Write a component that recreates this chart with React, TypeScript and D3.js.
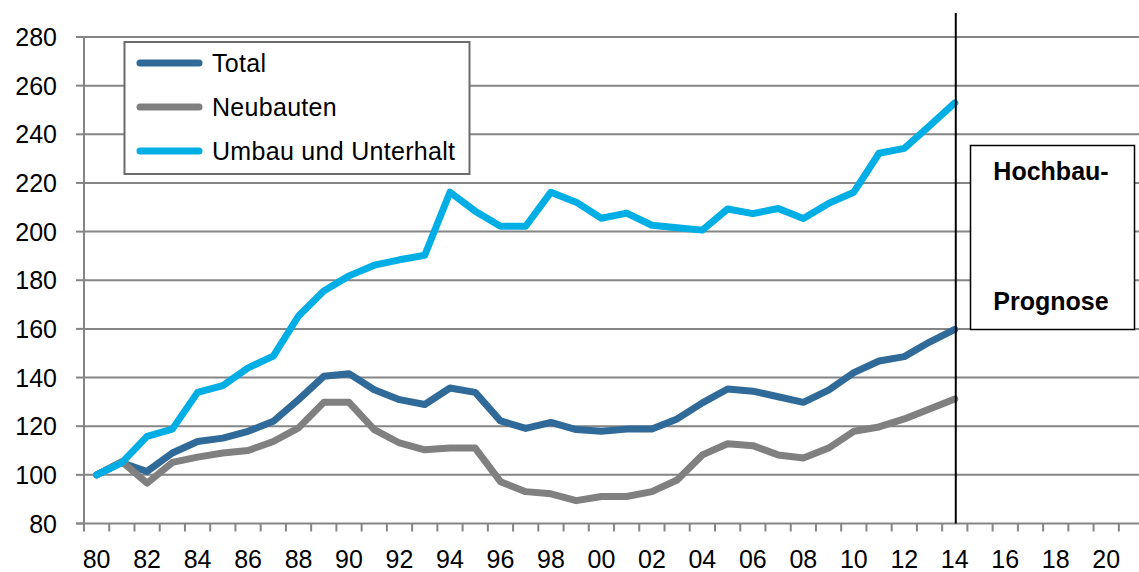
import * as d3 from 'd3';

const WIDTH = 1139;
const HEIGHT = 572;

// categories run one past the last label, like the Excel source
const years = d3.range(1980, 2022);
const yTicks = [80, 100, 120, 140, 160, 180, 200, 220, 240, 260, 280];
const xLabelYears = d3.range(1980, 2021, 2);

const totalValues = [
  100, 105, 101.4, 109, 113.7, 115.1, 117.9, 122, 130.9, 140.5, 141.6, 135,
  130.9, 128.9, 135.7, 133.9, 122.2, 119.1, 121.6, 118.6, 117.9, 118.8, 118.8,
  123, 129.6, 135.3, 134.4, 132.1, 129.8, 134.8, 142, 146.8, 148.6, 154.6, 159.8,
];
const neubautenValues = [
  100, 105.5, 96.6, 105.1, 107.3, 109, 110, 113.7, 119.3, 129.8, 129.8, 118.6,
  113.1, 110.3, 111, 111, 97.2, 93.1, 92.2, 89.4, 91.1, 91.1, 93.1, 97.9, 108.2,
  112.8, 112, 108.2, 106.9, 111, 117.9, 119.7, 123, 127.1, 131.2,
];
const umbauValues = [
  100, 105, 115.8, 118.8, 133.9, 136.7, 144, 148.8, 165.3, 175.6, 181.8, 186.2,
  188.4, 190.3, 216.2, 208.4, 202.2, 202.2, 216.2, 212.1, 205.5, 207.6, 202.6,
  201.6, 200.6, 209.3, 207.4, 209.5, 205.4, 211.6, 216.2, 232.2, 234.2, 243.5,
  252.9,
];

const series = [
  { name: 'Total', color: '#306A98', values: totalValues },
  { name: 'Neubauten', color: '#808080', values: neubautenValues },
  { name: 'Umbau und Unterhalt', color: '#00AEE6', values: umbauValues },
];

const FORECAST_YEAR = 2014;
const FONT = '"Liberation Sans", Arial, sans-serif';

export default function App() {
  const x = d3
    .scaleBand<number>()
    .domain(years)
    .range([84, 84 + years.length * 25.24]);
  const y = d3.scaleLinear().domain([80, 280]).range([523.5, 37]);
  const cx = (yr: number) => (x(yr) ?? 0) + x.bandwidth() / 2;

  const line = d3
    .line<number>()
    .x((_, i) => cx(years[i]))
    .y((v) => y(v));

  const plotRight = WIDTH;

  return (
    <svg
      width={WIDTH}
      height={HEIGHT}
      style={{ position: 'absolute', left: 0, top: 0, background: '#fff' }}
      fontFamily={FONT}
    >
      {/* grid */}
      {yTicks.map((t) => (
        <g key={t}>
          {t > 80 && (
            <line x1={84} x2={plotRight} y1={y(t)} y2={y(t)} stroke="#858585" strokeWidth={2} />
          )}
          <line x1={76} x2={84} y1={y(t)} y2={y(t)} stroke="#858585" strokeWidth={2} />
          <text x={57} y={y(t)} textAnchor="end" dominantBaseline="central" fontSize={25} fill="#000">
            {t}
          </text>
        </g>
      ))}

      {/* axes */}
      <line x1={84} x2={84} y1={y(280)} y2={y(80) + 1} stroke="#858585" strokeWidth={2} />
      <line x1={76} x2={plotRight} y1={y(80)} y2={y(80)} stroke="#858585" strokeWidth={2} />
      {years.map((yr) => (
        <line
          key={yr}
          x1={x(yr)}
          x2={x(yr)}
          y1={y(80)}
          y2={y(80) + 8}
          stroke="#858585"
          strokeWidth={2}
        />
      ))}
      {xLabelYears.map((yr) => (
        <text key={yr} x={cx(yr)} y={568} textAnchor="middle" fontSize={25} fill="#000">
          {String(yr % 100).padStart(2, '0')}
        </text>
      ))}

      {/* series */}
      {series.map((s) => (
        <path
          key={s.name}
          d={line(s.values) ?? ''}
          fill="none"
          stroke={s.color}
          strokeWidth={7}
          strokeLinejoin="round"
          strokeLinecap="round"
        />
      ))}

      {/* forecast marker */}
      <line
        x1={cx(FORECAST_YEAR) + 1}
        x2={cx(FORECAST_YEAR) + 1}
        y1={13}
        y2={y(80)}
        stroke="#000"
        strokeWidth={2}
      />
      <rect x={970.5} y={145.5} width={164} height={184} fill="#fff" stroke="#000" strokeWidth={1.5} />
      <text x={1051} y={180} textAnchor="middle" fontSize={25} fontWeight="bold" fill="#000">
        Hochbau-
      </text>
      <text x={1051} y={310} textAnchor="middle" fontSize={25} fontWeight="bold" fill="#000">
        Prognose
      </text>

      {/* legend */}
      <rect x={124.5} y={42} width={345} height={132} fill="#fff" stroke="#6b6b6b" strokeWidth={2} />
      {series.map((s, i) => (
        <g key={s.name} transform={`translate(0,${63 + i * 44})`}>
          <line x1={140} x2={199} y1={0} y2={0} stroke={s.color} strokeWidth={7} strokeLinecap="round" />
          <text x={212} y={9} fontSize={25} letterSpacing={0.3} fill="#000">
            {s.name}
          </text>
        </g>
      ))}
    </svg>
  );
}
